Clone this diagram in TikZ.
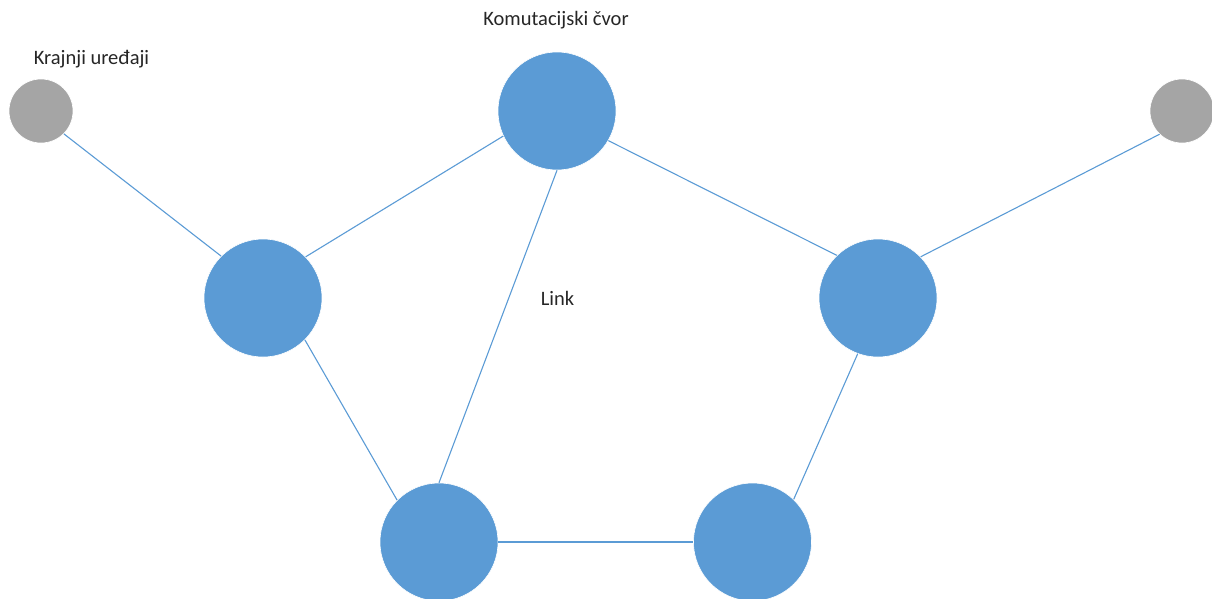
\documentclass[tikz,border=0pt]{standalone}
\usepackage{fontspec}
\setmainfont{Carlito}
\begin{document}
\begin{tikzpicture}[x=1pt,y=-1pt,
  sw/.style={circle,fill=sblue,draw=white,line width=0.6pt,minimum size=118pt,inner sep=0pt},
  dev/.style={circle,fill=sgray,draw=white,line width=0.6pt,minimum size=64pt,inner sep=0pt},
  lnk/.style={draw=sblue,line width=1.1pt},
  lbl/.style={font=\fontsize{20.5}{24}\selectfont,text=black!85,inner sep=0pt,anchor=base}]
\definecolor{sblue}{HTML}{5B9BD5}
\definecolor{sgray}{HTML}{A5A5A5}
\useasboundingbox (0,0) rectangle (1212,598);
\node[dev] (gl) at (41,111) {};
\node[dev] (gr) at (1182,111) {};
\node[sw] (t) at (557,111) {};
\node[sw] (l) at (263,298) {};
\node[sw] (r) at (878,298) {};
\node[sw] (bl) at (439,542) {};
\node[sw] (br) at (752.5,542) {};
\draw[lnk] (gl.315) -- (l.135);
\draw[lnk] (l.44) -- (t.205);
\draw[lnk] (t.south) -- (bl.north);
\draw[lnk] (t.330) -- (r.134);
\draw[lnk] (gr.226) -- (r.44);
\draw[lnk] (l.315) -- (bl.135);
\draw[lnk] (bl.east) -- (br.west);
\draw[lnk] (br.46) -- (r.250);
\node[lbl] (kc) at (556,25) {Komutacijski čvor};
\node[lbl] (ku) at (91.5,64) {Krajnji uređaji};
\node[lbl] (lk) at (557.5,305.7) {Link};
\end{tikzpicture}
\end{document}
